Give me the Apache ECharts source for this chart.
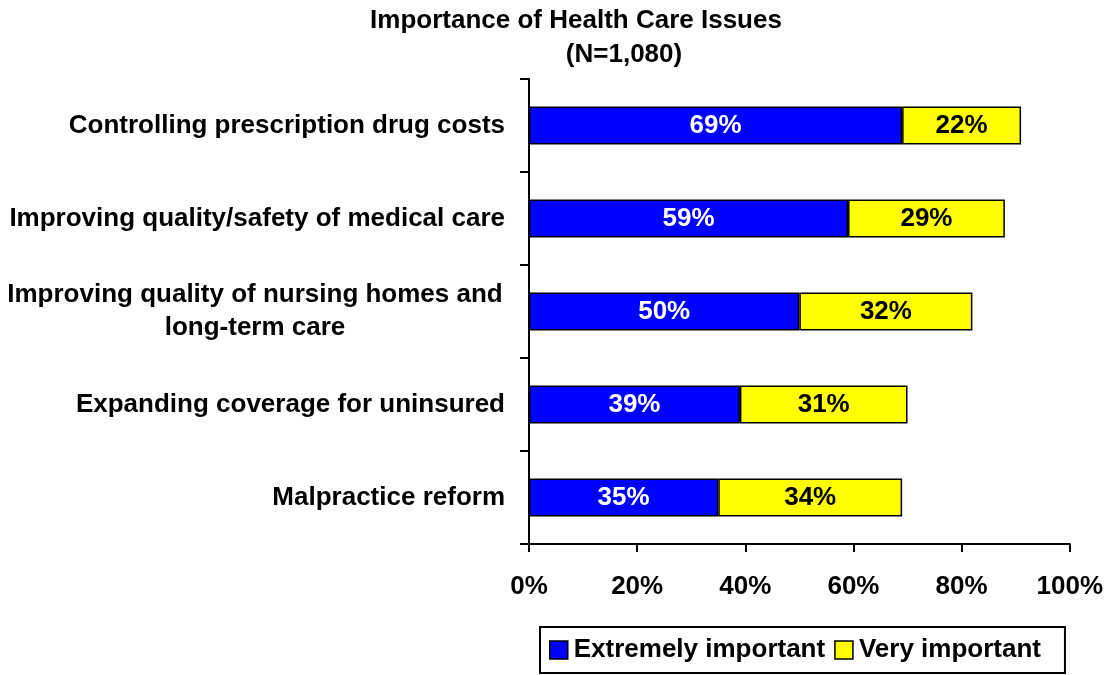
<!DOCTYPE html>
<html>
<head>
<meta charset="utf-8">
<title>Importance of Health Care Issues</title>
<script src="https://cdn.jsdelivr.net/npm/echarts@6/dist/echarts.min.js"></script>
<style>
  html, body { margin: 0; padding: 0; background: #ffffff; }
  #chart { width: 1106px; height: 675px; }
</style>
</head>
<body>
<div id="chart"></div>
<script>
// Survey items, top to bottom
const categories = [
  'Controlling prescription drug costs',
  'Improving quality/safety of medical care',
  'Improving quality of nursing homes and\nlong-term care',
  'Expanding coverage for uninsured',
  'Malpractice reform'
];
// Share of respondents (%)
const extremelyImportant = [69, 59, 50, 39, 35];
const veryImportant = [22, 29, 32, 31, 34];
const seriesNames = ['Extremely important', 'Very important'];
const xTicks = [0, 20, 40, 60, 80, 100];

const FONT = '"Liberation Sans", Arial, sans-serif';
const FS = 26;

const chart = echarts.init(document.getElementById('chart'), null, { renderer: 'canvas' });

chart.setOption({
  animation: false,
  backgroundColor: '#ffffff',
  textStyle: { fontFamily: FONT },
  title: [
    {
      text: 'Importance of Health Care Issues',
      left: 571, top: 3, textAlign: 'center',
      textStyle: { fontFamily: FONT, fontWeight: 'bold', fontSize: 26, color: '#000' }
    },
    {
      text: '(N=1,080)',
      left: 619, top: 37, textAlign: 'center',
      textStyle: { fontFamily: FONT, fontWeight: 'bold', fontSize: 26, color: '#000' }
    }
  ],
  legend: {
    data: seriesNames,
    left: 540, top: 627,
    padding: [10, 24, 10, 9],
    borderColor: '#000', borderWidth: 2,
    itemWidth: 18, itemHeight: 18, itemGap: 9,
    icon: 'rect',
    textStyle: { fontFamily: FONT, fontWeight: 'bold', fontSize: FS, color: '#000', padding: [0, 0, 0, 1] },
    itemStyle: { borderColor: '#000', borderWidth: 1.5 }
  },
  grid: { left: 529, right: 36, top: 79, bottom: 131, containLabel: false },
  xAxis: {
    type: 'value',
    min: 0, max: 100, interval: 20,
    axisLine: { show: true, lineStyle: { color: '#000', width: 2 } },
    axisTick: { show: true, length: 8, lineStyle: { color: '#000', width: 2 } },
    splitLine: { show: false },
    axisLabel: {
      margin: 30,
      fontFamily: FONT, fontWeight: 'bold', fontSize: FS, color: '#000',
      formatter: v => xTicks.includes(v) ? v + '%' : ''
    }
  },
  yAxis: {
    type: 'category',
    data: categories,
    inverse: true,
    axisLine: { show: true, lineStyle: { color: '#000', width: 2 } },
    axisTick: { show: true, length: 9, lineStyle: { color: '#000', width: 2 } },
    axisLabel: {
      margin: 24,
      fontFamily: FONT, fontWeight: 'bold', fontSize: FS, color: '#000',
      align: 'right', lineHeight: 33,
      formatter: v => v.includes('\n') ? '{c|' + v.split('\n').join('}\n{c|') + '}' : v,
      rich: {
        c: { fontFamily: FONT, fontWeight: 'bold', fontSize: FS, color: '#000', align: 'center', width: 500, lineHeight: 33 }
      }
    }
  },
  series: [
    {
      name: seriesNames[0],
      type: 'bar',
      stack: 'total',
      barWidth: '41%',
      data: extremelyImportant,
      itemStyle: { color: '#0000FF', borderColor: '#000', borderWidth: 1.5 },
      label: {
        show: true, position: 'inside',
        formatter: p => p.value + '%',
        fontFamily: FONT, fontWeight: 'bold', fontSize: FS, color: '#ffffff'
      }
    },
    {
      name: seriesNames[1],
      type: 'bar',
      stack: 'total',
      barWidth: '41%',
      data: veryImportant,
      itemStyle: { color: '#FFFF00', borderColor: '#000', borderWidth: 1.5 },
      label: {
        show: true, position: 'inside',
        formatter: p => p.value + '%',
        fontFamily: FONT, fontWeight: 'bold', fontSize: FS, color: '#000000'
      }
    }
  ]
});
</script>
</body>
</html>
